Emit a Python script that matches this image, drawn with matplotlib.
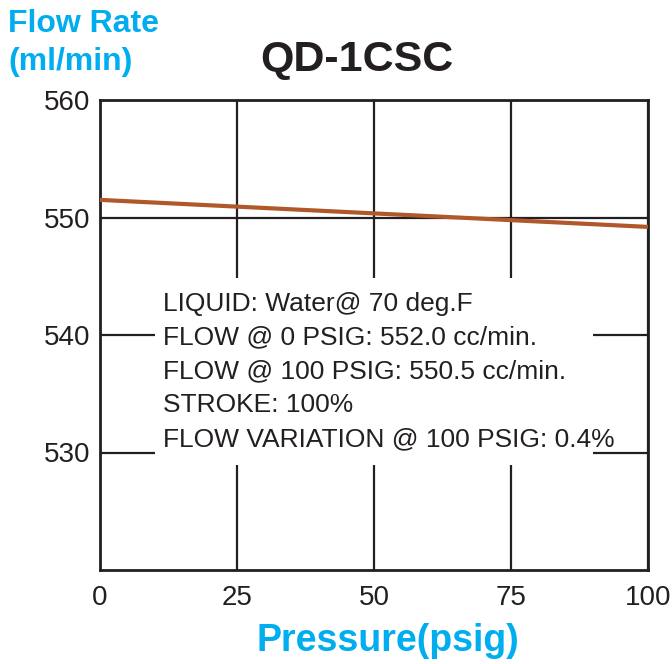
import matplotlib
matplotlib.use("Agg")
import matplotlib.pyplot as plt
from matplotlib.patches import Rectangle

pressure = [0, 100]
flow = [551.5, 549.2]
x_ticks = [0, 25, 50, 75, 100]
y_ticks = [530, 540, 550, 560]
info_lines = [
    "LIQUID: Water@ 70 deg.F",
    "FLOW @ 0 PSIG: 552.0 cc/min.",
    "FLOW @ 100 PSIG: 550.5 cc/min.",
    "STROKE: 100%",
    "FLOW VARIATION @ 100 PSIG: 0.4%",
]

plt.rcParams['font.family'] = ['Liberation Sans', 'DejaVu Sans']
cyan = '#00AEEF'
dark = '#231F20'

fig = plt.figure(figsize=(6.72, 6.64), dpi=100)
ax = fig.add_axes([100/672, 1-570/664, 548/672, 470/664])
ax.set_xlim(0, 100)
ax.set_ylim(520, 560)
ax.set_xticks(x_ticks)
ax.set_yticks(y_ticks)
ax.tick_params(length=0, labelsize=20, colors=dark)
ax.tick_params(axis='y', pad=7)
ax.tick_params(axis='x', pad=11)
for s in ax.spines.values():
    s.set_linewidth(2)
    s.set_color(dark)
ax.grid(True, color=dark, linewidth=1.6, zorder=1)
ax.set_axisbelow(True)

# white panel behind the info text
ax.add_patch(Rectangle((0.10, 0.223), 0.80, 0.398, transform=ax.transAxes,
                       facecolor='white', edgecolor='none', zorder=1.5))

ax.plot(pressure, flow, color='#B0582A', linewidth=3, zorder=3, solid_capstyle='butt')

for i, line in enumerate(info_lines):
    ax.text(0.115, 0.566 - i * 0.0718, line, transform=ax.transAxes,
            fontsize=19, color=dark, va='center', ha='left', zorder=2)

fig.text(357/672, 1-60/664, "QD-1CSC", fontsize=31, fontweight='bold', ha='center', va='center', color=dark)
fig.text(8/672, 1-43/664, "Flow Rate\n(ml/min)", fontsize=23, fontweight='bold', ha='left', va='center',
         color=cyan, linespacing=1.35)
fig.text(388/672, 1-641/664, "Pressure(psig)", fontsize=27, fontweight='bold', ha='center', va='center', color=cyan)

fig.savefig("out.png", dpi=100)
